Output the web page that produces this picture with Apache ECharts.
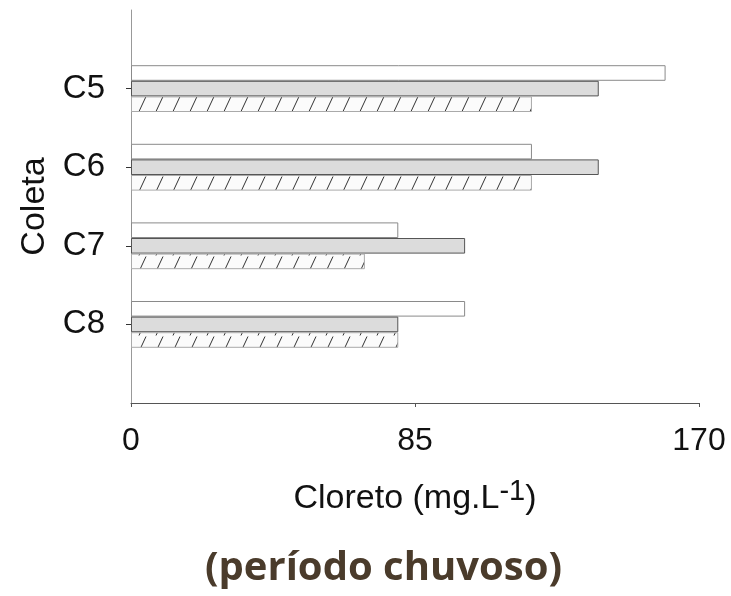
<!DOCTYPE html>
<html>
<head>
<meta charset="utf-8">
<script src="https://cdn.jsdelivr.net/npm/echarts@6/dist/echarts.min.js"></script>
<style>
  html, body { margin: 0; padding: 0; background: #fff; }
  #chart { width: 731px; height: 596px; }
</style>
</head>
<body>
<div id="chart"></div>
<script>
// Sampling points (blank entries pad the axis above and below)
const categories = ['', 'C5', 'C6', 'C7', 'C8', ''];
// Chloride concentrations (mg/L) per sampling, three series
const serieA = [null, 160, 120, 80, 100, null];
const serieB = [null, 140, 140, 100, 80, null];
const serieC = [null, 120, 120, 70, 80, null];
const xTicks = [0, 85, 170];

const FONT = "'Liberation Sans', Arial, sans-serif";

// diagonal hatch pattern for the third series
function hatch() {
  const c = document.createElement('canvas');
  c.width = 17; c.height = 16;
  const g = c.getContext('2d');
  g.fillStyle = '#fbfbfb';
  g.fillRect(0, 0, 17, 16);
  g.strokeStyle = '#333';
  g.lineWidth = 1;
  g.beginPath();
  g.moveTo(3, 15.5);
  g.lineTo(10, 0.5);
  g.stroke();
  return c;
}

const chart = echarts.init(document.getElementById('chart'), null, { renderer: 'canvas' });

const barCommon = { type: 'bar', barWidth: 15.6, barGap: '0%' };

chart.setOption({
  animation: false,
  title: {
    text: '(período chuvoso)',
    left: 200,
    top: 544,
    textStyle: { fontFamily: "'Open Sans', sans-serif", fontWeight: 'bold', fontSize: 40, color: '#4a3b2b' }
  },
  grid: { left: 131, right: 32, top: 10, bottom: 193 },
  xAxis: {
    type: 'value',
    min: xTicks[0], max: xTicks[2], interval: xTicks[1] - xTicks[0],
    splitLine: { show: false },
    axisLine: { show: true, lineStyle: { color: '#555', width: 1 } },
    axisTick: { show: true, length: 4, lineStyle: { color: '#555' } },
    axisLabel: { margin: 22, fontSize: 32, color: '#111', fontFamily: FONT },
    name: '{a|Cloreto (mg.L}{s|-1}{a|)}',
    nameLocation: 'middle',
    nameGap: 74,
    nameTextStyle: {
      rich: {
        a: { fontSize: 34, color: '#111', fontFamily: FONT },
        s: { fontSize: 29, color: '#111', fontFamily: FONT, padding: [0, 0, 15, 0] }
      }
    }
  },
  yAxis: {
    type: 'category',
    data: categories,
    inverse: true,
    boundaryGap: false,
    axisLine: { show: true, onZero: false, lineStyle: { color: '#999', width: 1 } },
    axisTick: {
      show: true, length: 5, lineStyle: { color: '#333' },
      interval: (i, v) => v !== ''
    },
    axisLabel: { margin: 26, fontSize: 33, color: '#111', fontFamily: FONT },
    splitLine: { show: false },
    name: 'Coleta',
    nameLocation: 'middle',
    nameRotate: 90,
    nameGap: 77,
    nameTextStyle: { fontSize: 34, color: '#111', fontFamily: FONT }
  },
  series: [
    Object.assign({}, barCommon, {
      name: 'A', data: serieA,
      itemStyle: { color: '#ffffff', borderColor: '#8a8a8a', borderWidth: 1 }
    }),
    Object.assign({}, barCommon, {
      name: 'B', data: serieB,
      itemStyle: { color: '#dcdcdc', borderColor: '#555', borderWidth: 1 }
    }),
    Object.assign({}, barCommon, {
      name: 'C', data: serieC,
      itemStyle: { color: { image: hatch(), repeat: 'repeat' }, borderColor: '#aaa', borderWidth: 1 }
    })
  ]
});
</script>
</body>
</html>
